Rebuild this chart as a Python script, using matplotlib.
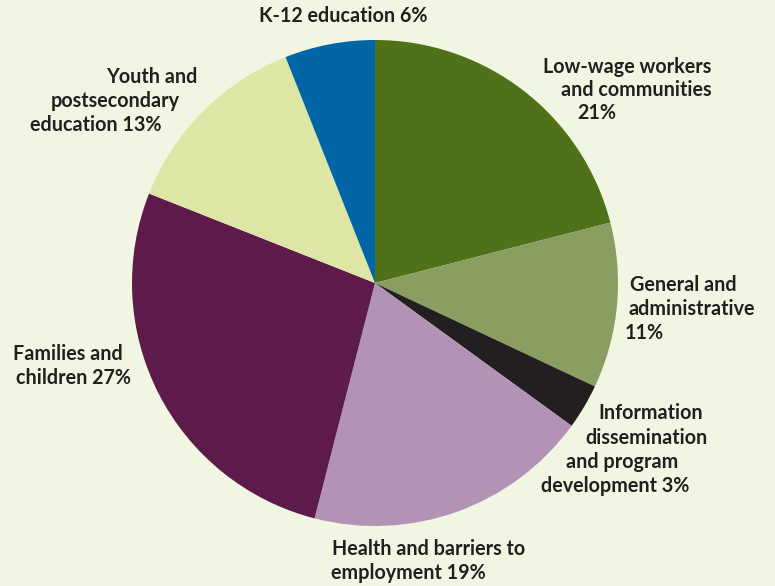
import matplotlib
matplotlib.use("Agg")
import matplotlib.pyplot as plt

categories = ["Low-wage workers and communities", "General and administrative",
              "Information dissemination and program development", "Health and barriers to employment",
              "Families and children", "Youth and postsecondary education", "K-12 education"]
values = [21, 11, 3, 19, 27, 13, 6]
colors = ["#4e7119", "#8a9e62", "#231f20", "#b393b5", "#5e1a4b", "#dde6a5", "#0066a6"]

# label lines: (text, x_center_px, y_px)
label_lines = [
    [("Low-wage workers", 627, 67), ("and communities", 636, 90), (f"{values[0]}%", 597, 113)],
    [("General and", 683, 285), ("administrative", 692, 309), (f"{values[1]}%", 644, 333)],
    [("Information", 651, 413), ("dissemination", 646, 438), ("and program", 622, 462),
     (f"development {values[2]}%", 615, 486)],
    [("Health and barriers to", 429, 549), (f"employment {values[3]}%", 408, 573)],
    [("Families and", 68, 354), (f"children {values[4]}%", 73, 378)],
    [("Youth and", 152, 77), ("postsecondary", 115, 101), (f"education {values[5]}%", 96, 125)],
    [(f"K-12 education {values[6]}%", 343, 16)],
]

W, H = 775, 586
bg = "#f1f6e2"
fig = plt.figure(figsize=(W / 100, H / 100), dpi=100, facecolor=bg)
ax = fig.add_axes([0, 0, 1, 1])
ax.set_facecolor(bg)

cx, cy, r = 375, H - 283, 243
ax.pie(values, colors=colors, startangle=90, counterclock=False, center=(cx, cy),
       radius=r, frame=True, wedgeprops=dict(linewidth=0))
ax.set_xlim(0, W)
ax.set_ylim(0, H)
ax.set_aspect("equal")
ax.axis("off")

for lines in label_lines:
    for txt, x, y in lines:
        ax.text(x, H - y, txt, ha="center", va="center", fontsize=14.2,
                fontweight="bold", family=["Lato", "DejaVu Sans"], color="#231f20")

fig.savefig("out.png", dpi=100, facecolor=bg)
